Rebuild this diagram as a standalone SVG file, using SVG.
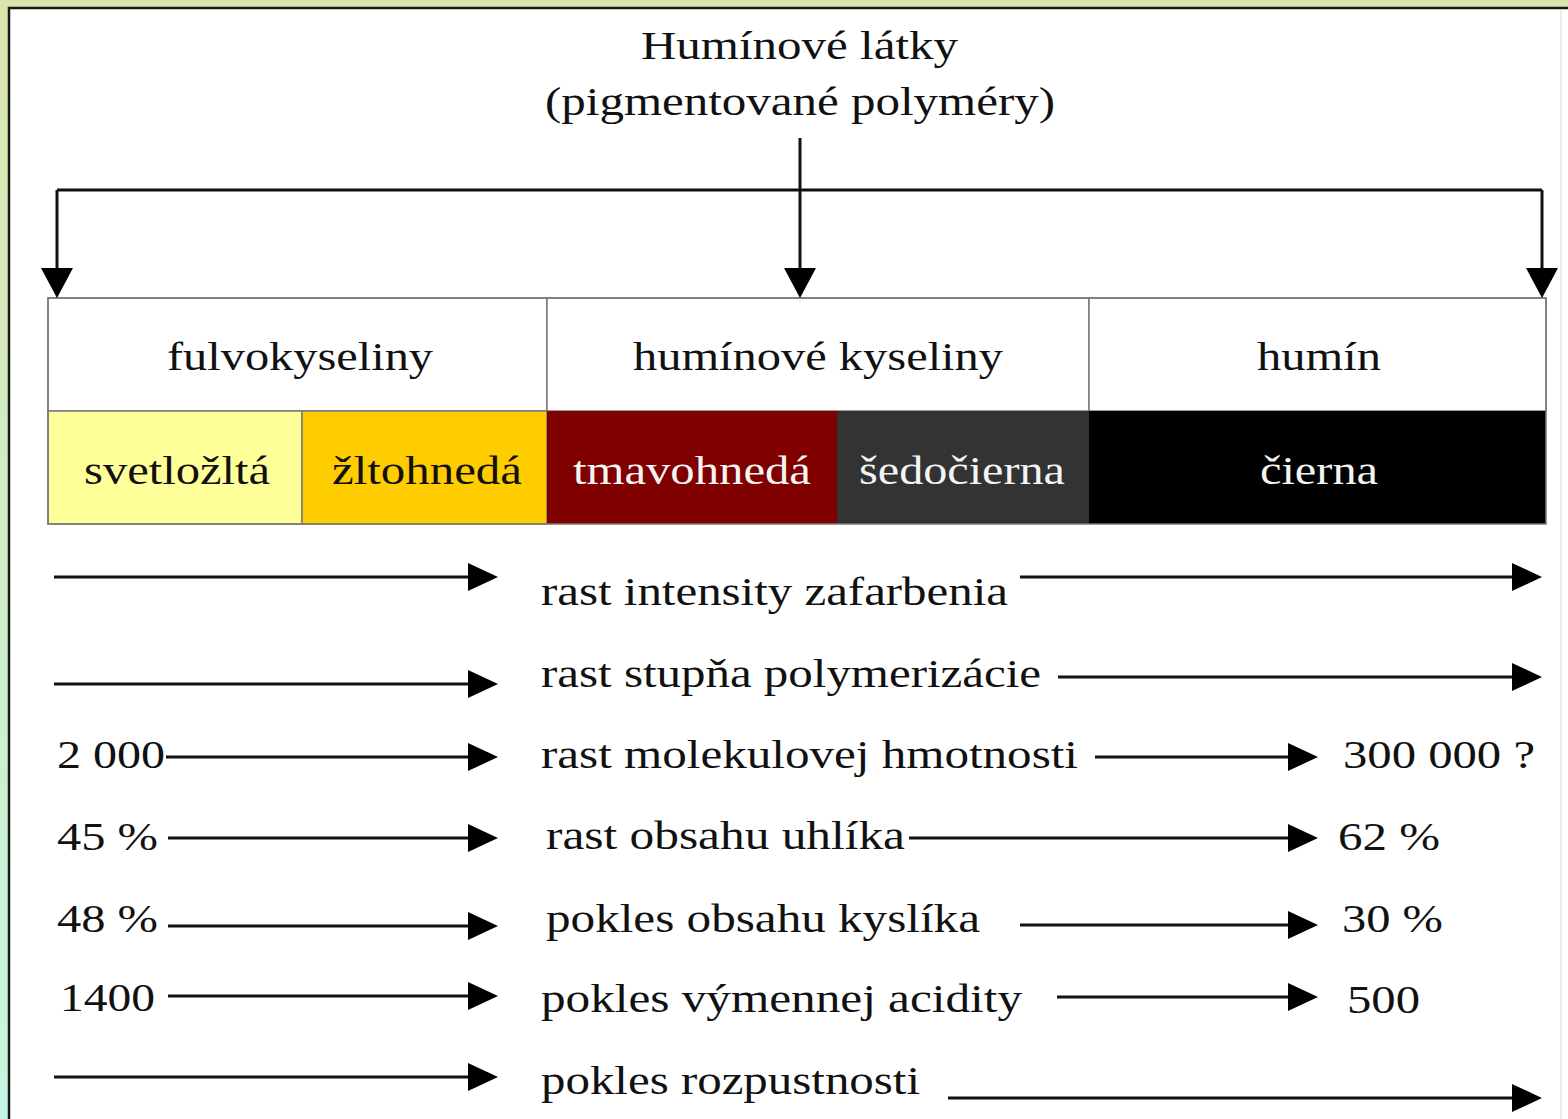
<svg xmlns="http://www.w3.org/2000/svg" width="1568" height="1119" viewBox="0 0 1568 1119">
<style>
.t{font-family:"Liberation Serif","Times New Roman",serif;font-size:40px;fill:#111}
.w{fill:#f4f4f4}
.ln{stroke:#111;stroke-width:3;fill:none}
.cell{stroke:#7a7a7a;stroke-width:1.5}
</style>
<defs>
<linearGradient id="bg" x1="0" y1="0" x2="0" y2="1">
<stop offset="0" stop-color="#dbe5ad"/>
<stop offset="1" stop-color="#c4f5e1"/>
</linearGradient>
<marker id="ah" viewBox="0 0 30 28" refX="20" refY="14" markerWidth="30" markerHeight="28" markerUnits="userSpaceOnUse" orient="auto">
<path d="M0,0 L30,14 L0,28 Z" fill="#000"/>
</marker>
<marker id="ahd" viewBox="0 0 30 32" refX="20" refY="16" markerWidth="30" markerHeight="32" markerUnits="userSpaceOnUse" orient="auto">
<path d="M0,0 L30,16 L0,32 Z" fill="#000"/>
</marker>
</defs>
<rect x="0" y="0" width="1568" height="1119" fill="url(#bg)"/>
<rect x="9" y="8" width="1570" height="1120" fill="#fff" stroke="#1a1a1a" stroke-width="2.5"/>
<line x1="1561" y1="10" x2="1561" y2="1119" stroke="#e6e6e6" stroke-width="1.5"/>

<g id="title">
<text class="t" x="641" y="59" textLength="317" lengthAdjust="spacingAndGlyphs">Humínové látky</text>
<text class="t" x="545" y="115" textLength="510" lengthAdjust="spacingAndGlyphs">(pigmentované polyméry)</text>
</g>

<g id="table">
<g id="fulvokyseliny"><rect class="cell" x="48" y="298" width="499" height="113" fill="#fff"/><text class="t" x="167" y="370" textLength="266" lengthAdjust="spacingAndGlyphs">fulvokyseliny</text></g>
<g id="huminove-kyseliny"><rect class="cell" x="547" y="298" width="542" height="113" fill="#fff"/><text class="t" x="633" y="370" textLength="370" lengthAdjust="spacingAndGlyphs">humínové kyseliny</text></g>
<g id="humin"><rect class="cell" x="1089" y="298" width="457" height="113" fill="#fff"/><text class="t" x="1257" y="370" textLength="124" lengthAdjust="spacingAndGlyphs">humín</text></g>
<g id="svetlozlta"><rect class="cell" x="48" y="411" width="254" height="113" fill="#ffff99"/><text class="t" x="84" y="484" textLength="186" lengthAdjust="spacingAndGlyphs">svetložltá</text></g>
<g id="zltohneda"><rect class="cell" x="302" y="411" width="245" height="113" fill="#ffcc00"/><text class="t" x="332" y="484" textLength="190" lengthAdjust="spacingAndGlyphs">žltohnedá</text></g>
<g id="tmavohneda"><rect x="547" y="411" width="290" height="113" fill="#800000"/><text class="t w" x="573" y="484" textLength="238" lengthAdjust="spacingAndGlyphs">tmavohnedá</text></g>
<g id="sedocierna"><rect x="837" y="411" width="252" height="113" fill="#333333"/><text class="t w" x="859" y="484" textLength="206" lengthAdjust="spacingAndGlyphs">šedočierna</text></g>
<g id="cierna"><rect x="1089" y="411" width="457" height="113" fill="#000"/><text class="t w" x="1260" y="484" textLength="118" lengthAdjust="spacingAndGlyphs">čierna</text></g>
<rect x="48" y="298" width="1498" height="226" fill="none" stroke="#7a7a7a" stroke-width="1.5"/>
</g>

<g id="connectors">
<line class="ln" x1="800" y1="138" x2="800" y2="288" marker-end="url(#ahd)"/>
<line class="ln" x1="57" y1="190" x2="1542" y2="190"/>
<line class="ln" x1="57" y1="190" x2="57" y2="288" marker-end="url(#ahd)"/>
<line class="ln" x1="1542" y1="190" x2="1542" y2="288" marker-end="url(#ahd)"/>

<line class="ln" x1="54" y1="577" x2="488" y2="577" marker-end="url(#ah)"/>
<line class="ln" x1="1020" y1="577" x2="1532" y2="577" marker-end="url(#ah)"/>
<line class="ln" x1="54" y1="684" x2="488" y2="684" marker-end="url(#ah)"/>
<line class="ln" x1="1058" y1="677" x2="1532" y2="677" marker-end="url(#ah)"/>
<line class="ln" x1="166" y1="757" x2="488" y2="757" marker-end="url(#ah)"/>
<line class="ln" x1="1095" y1="757" x2="1308" y2="757" marker-end="url(#ah)"/>
<line class="ln" x1="168" y1="838" x2="488" y2="838" marker-end="url(#ah)"/>
<line class="ln" x1="909" y1="838" x2="1308" y2="838" marker-end="url(#ah)"/>
<line class="ln" x1="168" y1="926" x2="488" y2="926" marker-end="url(#ah)"/>
<line class="ln" x1="1020" y1="925" x2="1308" y2="925" marker-end="url(#ah)"/>
<line class="ln" x1="168" y1="996" x2="488" y2="996" marker-end="url(#ah)"/>
<line class="ln" x1="1057" y1="997" x2="1308" y2="997" marker-end="url(#ah)"/>
<line class="ln" x1="54" y1="1077" x2="488" y2="1077" marker-end="url(#ah)"/>
<line class="ln" x1="948" y1="1098" x2="1532" y2="1098" marker-end="url(#ah)"/>
</g>

<g id="labels">
<text class="t" x="541" y="605" textLength="467" lengthAdjust="spacingAndGlyphs">rast intensity zafarbenia</text>
<text class="t" x="541" y="687" textLength="500" lengthAdjust="spacingAndGlyphs">rast stupňa polymerizácie</text>
<text class="t" x="541" y="768" textLength="537" lengthAdjust="spacingAndGlyphs">rast molekulovej hmotnosti</text>
<text class="t" x="546" y="849" textLength="359" lengthAdjust="spacingAndGlyphs">rast obsahu uhlíka</text>
<text class="t" x="546" y="932" textLength="434" lengthAdjust="spacingAndGlyphs">pokles obsahu kyslíka</text>
<text class="t" x="541" y="1012" textLength="481" lengthAdjust="spacingAndGlyphs">pokles výmennej acidity</text>
<text class="t" x="541" y="1094" textLength="379" lengthAdjust="spacingAndGlyphs">pokles rozpustnosti</text>
<text class="t" x="57" y="768" textLength="108" lengthAdjust="spacingAndGlyphs">2 000</text>
<text class="t" x="57" y="850" textLength="101" lengthAdjust="spacingAndGlyphs">45 %</text>
<text class="t" x="57" y="932" textLength="101" lengthAdjust="spacingAndGlyphs">48 %</text>
<text class="t" x="60" y="1011" textLength="95" lengthAdjust="spacingAndGlyphs">1400</text>
<text class="t" x="1343" y="768" textLength="192" lengthAdjust="spacingAndGlyphs">300 000 ?</text>
<text class="t" x="1338" y="850" textLength="102" lengthAdjust="spacingAndGlyphs">62 %</text>
<text class="t" x="1342" y="932" textLength="101" lengthAdjust="spacingAndGlyphs">30 %</text>
<text class="t" x="1347" y="1013" textLength="73" lengthAdjust="spacingAndGlyphs">500</text>
</g>
</svg>
